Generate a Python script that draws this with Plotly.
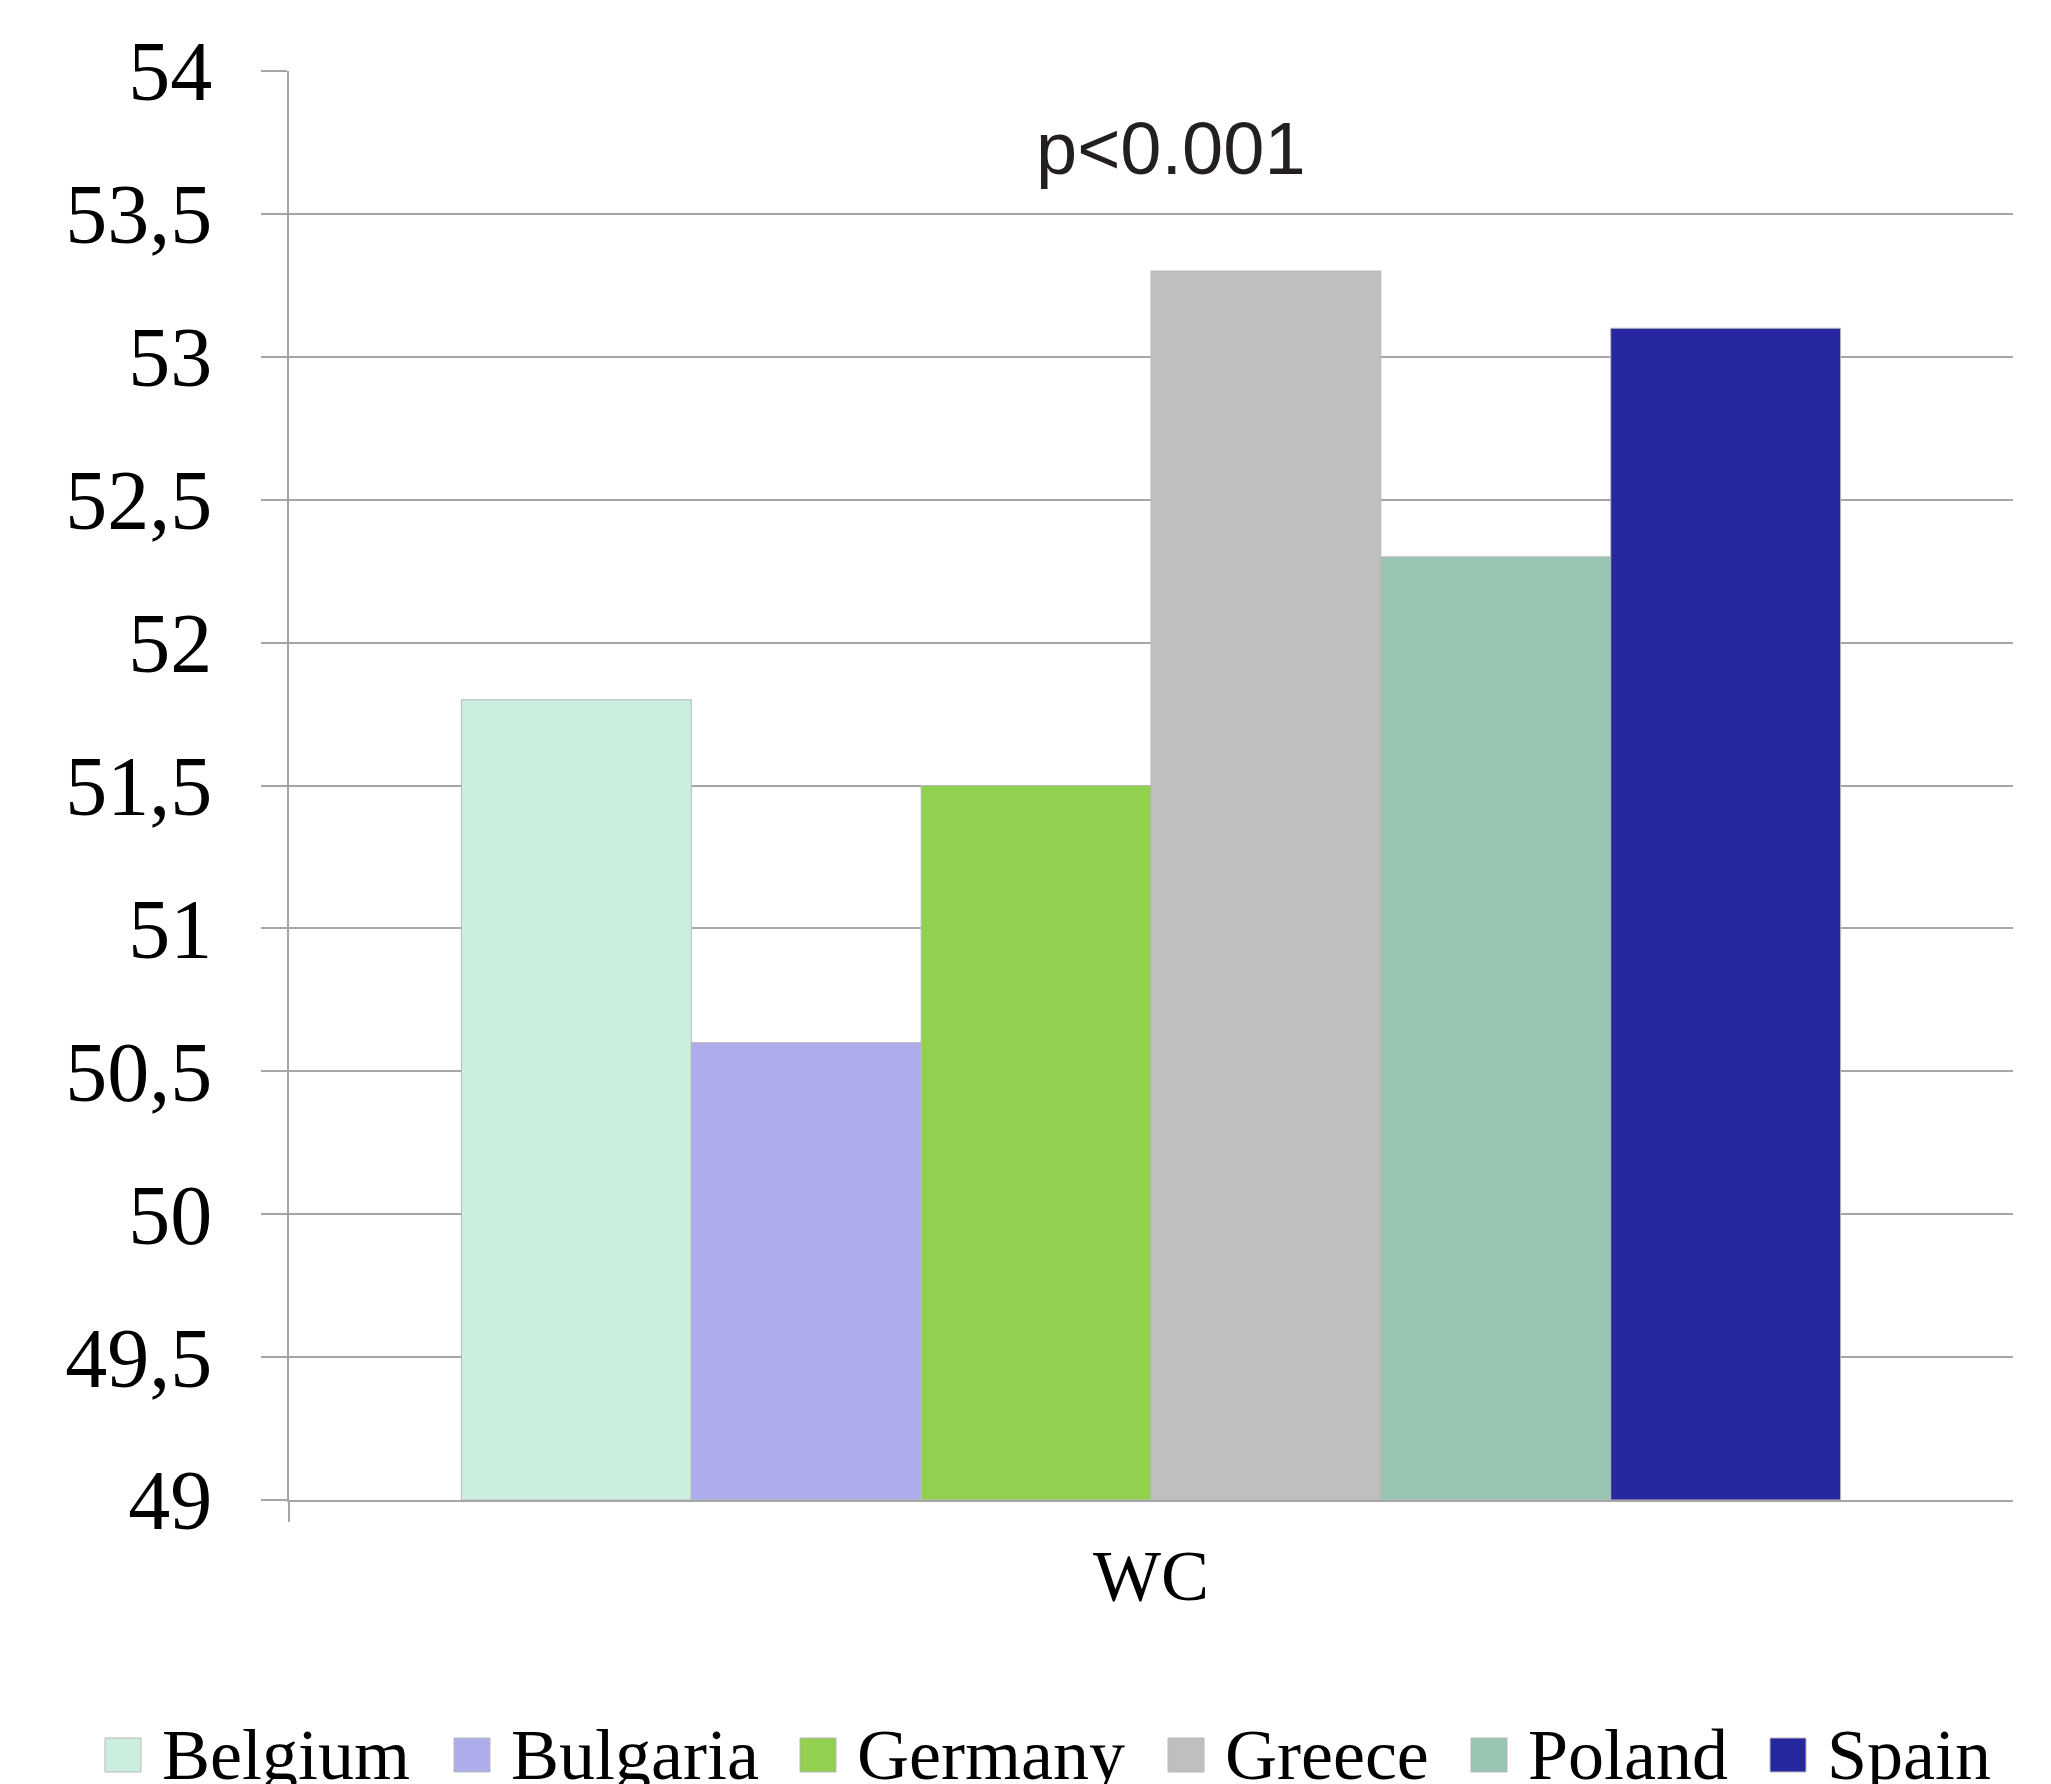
import plotly.graph_objects as go

# Mean WC by country
category = ["WC"]
countries = ["Belgium", "Bulgaria", "Germany", "Greece", "Poland", "Spain"]
wc_values = [51.8, 50.6, 51.5, 53.3, 52.3, 53.1]
colors = ["#CCEEDF", "#AEADEB", "#92D050", "#BFBFBF", "#99C6B2", "#2727A0"]
p_label = "p<0.001"

W, H = 2051, 1784
M_L, M_R, M_T, M_B = 289, W - 2013, 71, H - 1500
PLOT_H = H - M_T - M_B
PW = W - M_L - M_R
Y_FLOOR = 49

GRID = "#A6A6A6"
SERIF = "Liberation Serif, Times New Roman, serif"
SANS = "Liberation Sans, Arial, sans-serif"

fig = go.Figure()
# bars start at the axis floor, so the drawn height is value - floor
for name, val, col in zip(countries, wc_values, colors):
    fig.add_trace(go.Bar(
        name=name, x=category, y=[val - Y_FLOOR], base=Y_FLOOR,
        marker=dict(color=col, line=dict(color="#B8B8B8", width=1)),
        showlegend=False,
    ))

fig.update_layout(
    width=W, height=H,
    margin=dict(l=M_L, r=M_R, t=M_T, b=M_B, pad=0),
    paper_bgcolor="white", plot_bgcolor="white",
    barmode="group", bargap=0.2, bargroupgap=0,
    separators=",.",
    showlegend=False,
)
fig.update_yaxes(
    range=[Y_FLOOR, 54], dtick=0.5, tick0=Y_FLOOR,
    showgrid=True, gridcolor=GRID, gridwidth=2,
    showline=True, linecolor=GRID, linewidth=2,
    ticks="outside", ticklen=26, tickcolor=GRID, tickwidth=2,
    tickfont=dict(family=SERIF, size=84, color="black"),
    ticklabelstandoff=32,
    zeroline=False,
)
fig.update_xaxes(
    showline=True, linecolor=GRID, linewidth=2,
    showgrid=False, ticks="",
    tickfont=dict(family=SERIF, size=72, color="black"),
    ticklabelstandoff=12,
)

# short extension of the value axis below the baseline
fig.add_shape(type="line", xref="paper", yref="paper",
              x0=0, x1=0, y0=0, y1=-22 / PLOT_H,
              line=dict(color=GRID, width=2))

# significance note
fig.add_annotation(text=p_label, xref="paper", yref="paper",
                   x=(1171 - M_L) / PW, y=(1500 - 149) / PLOT_H,
                   xanchor="center", yanchor="middle", showarrow=False,
                   font=dict(family=SANS, size=74, color="#231F20"))

# legend row: swatch + label per country
legend_x = [105, 454, 800, 1168, 1471, 1770]
for name, col, lx in zip(countries, colors, legend_x):
    fig.add_shape(type="rect", xref="paper", yref="paper",
                  x0=(lx - M_L) / PW, x1=(lx + 36 - M_L) / PW,
                  y0=(1500 - 1772) / PLOT_H, y1=(1500 - 1738) / PLOT_H,
                  fillcolor=col, line=dict(color="#B8B8B8", width=1))
    fig.add_annotation(text=name, xref="paper", yref="paper",
                       x=(lx + 55 - M_L) / PW, y=(1500 - 1755) / PLOT_H,
                       xanchor="left", yanchor="middle", showarrow=False,
                       font=dict(family=SERIF, size=72, color="black"))

fig.write_html("out.html")
